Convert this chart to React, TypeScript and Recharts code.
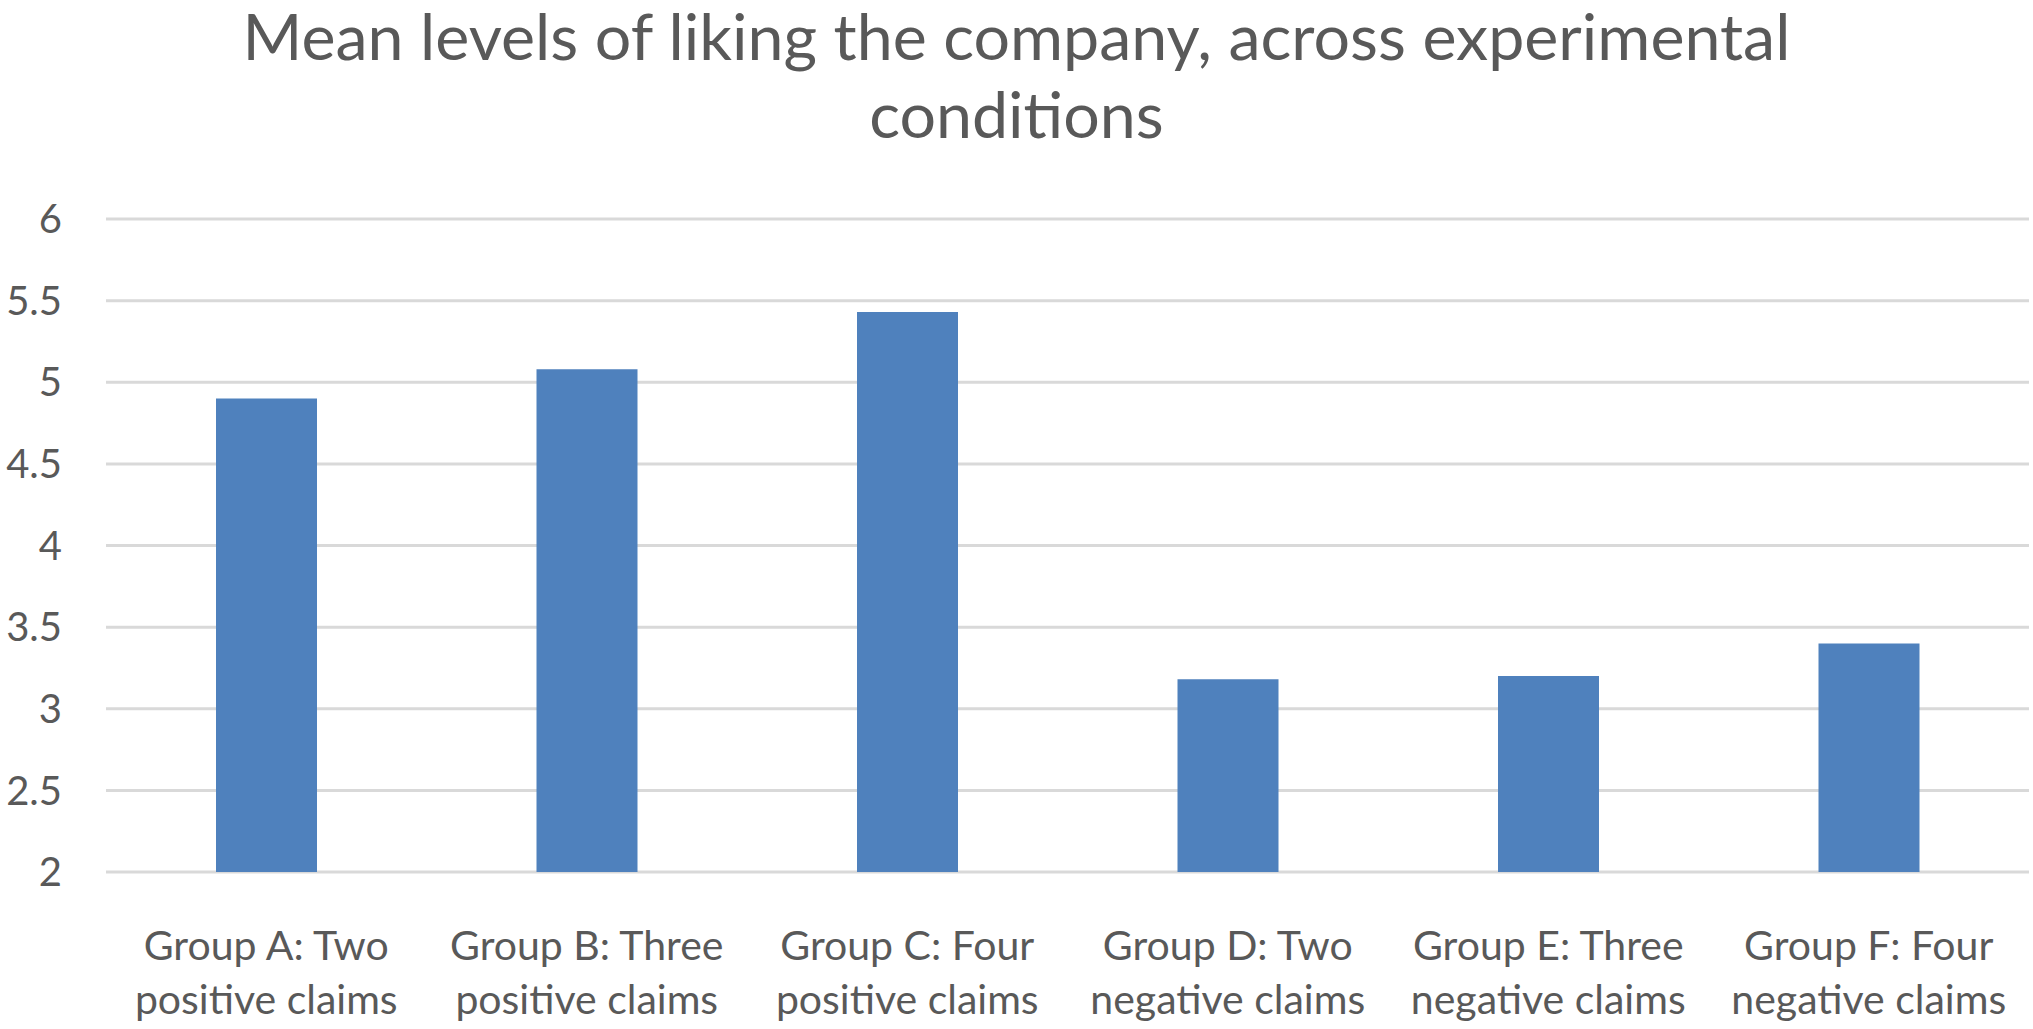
import { BarChart, Bar, XAxis, YAxis, CartesianGrid } from 'recharts';

const categories = [
  'Group A: Two\npositive claims',
  'Group B: Three\npositive claims',
  'Group C: Four\npositive claims',
  'Group D: Two\nnegative claims',
  'Group E: Three\nnegative claims',
  'Group F: Four\nnegative claims',
];
const meanLiking = [4.9, 5.08, 5.43, 3.18, 3.2, 3.4];
const yTicks = [2, 2.5, 3, 3.5, 4, 4.5, 5, 5.5, 6];
const titleLines = ['Mean levels of liking the company, across experimental', 'conditions'];

const chartData = categories.map((name, i) => ({ name, value: meanLiking[i] }));

const FONT = 'Lato, "Open Sans", sans-serif';
const TEXT = '#595959';

function CategoryTick({ x, y, payload }: any) {
  const lines = String(payload.value).split('\n');
  return (
    <text x={x} y={y} textAnchor="middle" fill={TEXT} fontSize={41} fontFamily={FONT}>
      {lines.map((line, i) => (
        <tspan key={i} x={x} dy={i === 0 ? 86 : 54}>
          {line}
        </tspan>
      ))}
    </text>
  );
}

export default function App() {
  return (
    <div style={{ position: 'relative', width: 2033, height: 1029, background: '#fff' }}>
      <style>{'body{margin:0}'}</style>
      <div
        style={{
          position: 'absolute',
          top: -4,
          left: 0,
          width: 2033,
          textAlign: 'center',
          fontFamily: FONT,
          fontSize: 64.5,
          lineHeight: '78px',
          color: TEXT,
        }}
      >
        {titleLines.map((t) => (
          <div key={t}>{t}</div>
        ))}
      </div>
      <BarChart
        width={2033}
        height={1029}
        data={chartData}
        margin={{ top: 219, right: 4, left: 0, bottom: 0 }}
        style={{ position: 'absolute', top: 0, left: 0 }}
      >
        <CartesianGrid vertical={false} stroke="#D9D9D9" strokeWidth={3} />
        <XAxis
          dataKey="name"
          axisLine={false}
          tickLine={false}
          tickSize={0}
          height={157}
          interval={0}
          tick={<CategoryTick />}
        />
        <YAxis
          domain={[2, 6]}
          ticks={yTicks}
          width={106}
          axisLine={false}
          tickLine={false}
          tickSize={0}
          tickMargin={44}
          tickFormatter={(v) => String(v)}
          tick={{ fill: TEXT, fontSize: 40, fontFamily: FONT }}
        />
        <Bar dataKey="value" fill="#4F81BD" barSize={101} isAnimationActive={false} />
      </BarChart>
    </div>
  );
}
